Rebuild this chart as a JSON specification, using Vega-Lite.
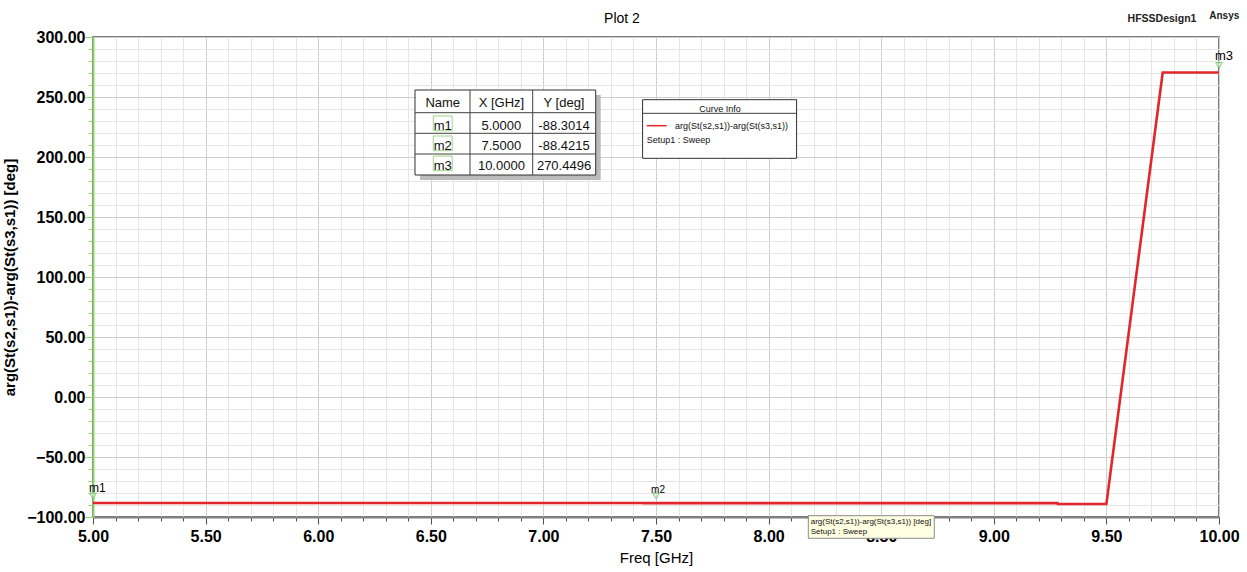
{
  "$schema": "https://vega.github.io/schema/vega-lite/v6.json",
  "width": 1126,
  "height": 480,
  "autosize": "none",
  "padding": {"left": 93, "top": 37, "right": 28, "bottom": 55},
  "background": "white",
  "config": {
    "font": "Liberation Sans",
    "view": {"stroke": "#505050", "strokeWidth": 1.5}
  },
  "datasets": {
    "curve": [
      {"f": 5.0, "v": -88.30},
      {"f": 7.44, "v": -88.30},
      {"f": 7.441, "v": -88.42},
      {"f": 9.283, "v": -88.45},
      {"f": 9.284, "v": -89.1},
      {"f": 9.5, "v": -89.2},
      {"f": 9.75, "v": 270.40},
      {"f": 10.0, "v": 270.45}
    ],
    "markers": [
      {"name": "m1", "f": 5.0, "v": -88.3014},
      {"name": "m2", "f": 7.5, "v": -88.4215},
      {"name": "m3", "f": 10.0, "v": 270.4496}
    ],
    "tableShadow": [{"f": 6.452, "f2": 7.2545, "v": 251.67, "v2": 180.83}],
    "tableBox": [{"f": 6.4298, "f2": 7.2323, "v": 255.83, "v2": 185.0}],
    "tableLines": [
      {"f": 6.4298, "f2": 7.2323, "v": 236.92, "v2": 236.92},
      {"f": 6.4298, "f2": 7.2323, "v": 219.75, "v2": 219.75},
      {"f": 6.4298, "f2": 7.2323, "v": 202.5, "v2": 202.5},
      {"f": 6.6741, "f2": 6.6741, "v": 255.83, "v2": 185.0},
      {"f": 6.9525, "f2": 6.9525, "v": 255.83, "v2": 185.0}
    ],
    "nameBoxes": [
      {"f": 6.511, "f2": 6.595, "v": 234.2, "v2": 221.9},
      {"f": 6.511, "f2": 6.595, "v": 217.5, "v2": 205.25},
      {"f": 6.511, "f2": 6.595, "v": 200.8, "v2": 188.6}
    ],
    "tableText": [
      {"t": "Name", "f": 6.553, "v": 244.75},
      {"t": "X [GHz]", "f": 6.8135, "v": 244.75},
      {"t": "Y [deg]", "f": 7.0915, "v": 244.75},
      {"t": "m1", "f": 6.553, "v": 226.1},
      {"t": "5.0000", "f": 6.8135, "v": 226.1},
      {"t": "-88.3014", "f": 7.0915, "v": 226.1},
      {"t": "m2", "f": 6.553, "v": 209.2},
      {"t": "7.5000", "f": 6.8135, "v": 209.2},
      {"t": "-88.4215", "f": 7.0915, "v": 209.2},
      {"t": "m3", "f": 6.553, "v": 192.5},
      {"t": "10.0000", "f": 6.8135, "v": 192.5},
      {"t": "270.4496", "f": 7.0915, "v": 192.5}
    ],
    "curveBox": [{"f": 7.4405, "f2": 8.1243, "v": 247.75, "v2": 198.9}],
    "curveBoxLine": [{"f": 7.4405, "f2": 8.1243, "v": 236.4, "v2": 236.4}],
    "curveSwatch": [{"f": 7.4587, "f2": 7.5475, "v": 226.1, "v2": 226.1}],
    "curveTitle": [{"t": "Curve Info", "f": 7.784, "v": 239.6}],
    "curveText": [
      {"t": "arg(St(s2,s1))-arg(St(s3,s1))", "f": 7.5843, "v": 226.1},
      {"t": "Setup1 : Sweep", "f": 7.4587, "v": 214.2}
    ],
    "tipBox": [{"f": 8.1764, "f2": 8.7358, "v": -98.9, "v2": -117.75}],
    "tipText": [
      {"t": "arg(St(s2,s1))-arg(St(s3,s1)) [deg]", "f": 8.187, "v": -103.9},
      {"t": "Setup1 : Sweep", "f": 8.187, "v": -112.5}
    ],
    "plotTitle": [{"t": "Plot 2", "f": 7.349, "v": 315.0}],
    "corner1": [{"t": "HFSSDesign1", "f": 9.747, "v": 315.0}],
    "corner2": [{"t": "Ansys", "f": 10.0235, "v": 317.75}]
  },
  "encoding": {
    "x": {
      "field": "f", "type": "quantitative",
      "scale": {"domain": [5, 10], "nice": false, "zero": false},
      "axis": {
        "values": [5,5.1,5.2,5.3,5.4,5.5,5.6,5.7,5.8,5.9,6,6.1,6.2,6.3,6.4,6.5,6.6,6.7,6.8,6.9,7,7.1,7.2,7.3,7.4,7.5,7.6,7.7,7.8,7.9,8,8.1,8.2,8.3,8.4,8.5,8.6,8.7,8.8,8.9,9,9.1,9.2,9.3,9.4,9.5,9.6,9.7,9.8,9.9,10],
        "labelExpr": "abs(datum.value*2 - round(datum.value*2)) < 0.001 ? format(datum.value, '.2f') : ''",
        "labelFont": "Liberation Sans", "labelFontSize": 16, "labelFontWeight": "bold", "labelColor": "#000",
        "labelOverlap": false, "labelFlush": false, "labelBound": false, "labelPadding": 4,
        "tickColor": "#505050",
        "tickSize": {"condition": {"test": "abs(datum.value*2 - round(datum.value*2)) < 0.001", "value": 7}, "value": 4},
        "grid": true,
        "gridColor": {"condition": {"test": "abs(datum.value*2 - round(datum.value*2)) < 0.001", "value": "#cfcfcf"}, "value": "#e6e6e6"},
        "domainColor": "#808080", "domainWidth": 2,
        "title": "Freq [GHz]", "titleFont": "Liberation Sans", "titleFontSize": 15, "titleFontWeight": "normal", "titleColor": "#000", "titlePadding": 6
      }
    },
    "y": {
      "field": "v", "type": "quantitative",
      "scale": {"domain": [-100, 300], "nice": false, "zero": false},
      "axis": {
        "values": [-100,-90,-80,-70,-60,-50,-40,-30,-20,-10,0,10,20,30,40,50,60,70,80,90,100,110,120,130,140,150,160,170,180,190,200,210,220,230,240,250,260,270,280,290,300],
        "labelExpr": "datum.value % 50 === 0 ? format(datum.value, '.2f') : ''",
        "labelFont": "Liberation Sans", "labelFontSize": 16, "labelFontWeight": "bold", "labelColor": "#000",
        "labelOverlap": false, "labelFlush": false, "labelBound": false, "labelPadding": 0,
        "tickColor": "#8fd46a",
        "tickSize": {"condition": {"test": "datum.value % 50 === 0", "value": 8}, "value": 5},
        "grid": true,
        "gridColor": {"condition": {"test": "datum.value % 50 === 0", "value": "#cfcfcf"}, "value": "#e6e6e6"},
        "domainColor": "#8fd46a", "domainWidth": 2,
        "title": "arg(St(s2,s1))-arg(St(s3,s1)) [deg]", "titleFont": "Liberation Sans", "titleFontSize": 15, "titleFontWeight": "bold", "titleColor": "#000", "titlePadding": 9
      }
    }
  },
  "layer": [
    {
      "data": {"name": "curve"},
      "mark": {"type": "line", "color": "#e3262b", "strokeWidth": 2.6, "clip": false}
    },
    {
      "data": {"name": "markers"},
      "mark": {"type": "point", "shape": "triangle-down", "size": 45, "filled": true, "fill": "#d8f0c8", "stroke": "#5cb85c", "strokeWidth": 1, "yOffset": -7, "clip": false}
    },
    {
      "data": {"name": "markers"},
      "transform": [{"filter": "datum.name === 'm1'"}],
      "mark": {"type": "text", "fontSize": 12, "align": "left", "baseline": "middle", "dx": -4, "dy": -15, "color": "#000"},
      "encoding": {"text": {"field": "name"}}
    },
    {
      "data": {"name": "markers"},
      "transform": [{"filter": "datum.name === 'm2'"}],
      "mark": {"type": "text", "fontSize": 10, "align": "center", "baseline": "middle", "dx": 2, "dy": -13, "color": "#000"},
      "encoding": {"text": {"field": "name"}}
    },
    {
      "data": {"name": "markers"},
      "transform": [{"filter": "datum.name === 'm3'"}],
      "mark": {"type": "text", "fontSize": 13, "align": "left", "baseline": "middle", "dx": -4, "dy": -16, "color": "#000"},
      "encoding": {"text": {"field": "name"}}
    },
    {
      "data": {"name": "tableShadow"},
      "mark": {"type": "rect", "fill": "#b4b4b4", "opacity": 0.9},
      "encoding": {"x2": {"field": "f2"}, "y2": {"field": "v2"}}
    },
    {
      "data": {"name": "tableBox"},
      "mark": {"type": "rect", "fill": "#ffffff", "stroke": "#303030", "strokeWidth": 1},
      "encoding": {"x2": {"field": "f2"}, "y2": {"field": "v2"}}
    },
    {
      "data": {"name": "tableLines"},
      "mark": {"type": "rule", "color": "#404040", "strokeWidth": 1},
      "encoding": {"x2": {"field": "f2"}, "y2": {"field": "v2"}}
    },
    {
      "data": {"name": "nameBoxes"},
      "mark": {"type": "rect", "fill": null, "fillOpacity": 0, "stroke": "#9fd288", "strokeWidth": 1},
      "encoding": {"x2": {"field": "f2"}, "y2": {"field": "v2"}}
    },
    {
      "data": {"name": "tableText"},
      "mark": {"type": "text", "fontSize": 13, "align": "center", "baseline": "middle", "color": "#111"},
      "encoding": {"text": {"field": "t"}}
    },
    {
      "data": {"name": "curveBox"},
      "mark": {"type": "rect", "fill": "#ffffff", "stroke": "#303030", "strokeWidth": 1},
      "encoding": {"x2": {"field": "f2"}, "y2": {"field": "v2"}}
    },
    {
      "data": {"name": "curveBoxLine"},
      "mark": {"type": "rule", "color": "#404040", "strokeWidth": 1},
      "encoding": {"x2": {"field": "f2"}, "y2": {"field": "v2"}}
    },
    {
      "data": {"name": "curveSwatch"},
      "mark": {"type": "rule", "color": "#e3262b", "strokeWidth": 1.5},
      "encoding": {"x2": {"field": "f2"}, "y2": {"field": "v2"}}
    },
    {
      "data": {"name": "curveTitle"},
      "mark": {"type": "text", "fontSize": 9, "align": "center", "baseline": "middle", "color": "#111"},
      "encoding": {"text": {"field": "t"}}
    },
    {
      "data": {"name": "curveText"},
      "mark": {"type": "text", "fontSize": 9, "align": "left", "baseline": "middle", "color": "#111"},
      "encoding": {"text": {"field": "t"}}
    },
    {
      "data": {"name": "tipBox"},
      "mark": {"type": "rect", "fill": "#ffffe1", "stroke": "#8c8c8c", "strokeWidth": 1, "clip": false},
      "encoding": {"x2": {"field": "f2"}, "y2": {"field": "v2"}}
    },
    {
      "data": {"name": "tipText"},
      "mark": {"type": "text", "fontSize": 8, "align": "left", "baseline": "middle", "color": "#111"},
      "encoding": {"text": {"field": "t"}}
    },
    {
      "data": {"name": "plotTitle"},
      "mark": {"type": "text", "fontSize": 14, "align": "center", "baseline": "middle", "color": "#000"},
      "encoding": {"text": {"field": "t"}}
    },
    {
      "data": {"name": "corner1"},
      "mark": {"type": "text", "fontSize": 10.5, "fontWeight": "bold", "align": "center", "baseline": "middle", "color": "#222"},
      "encoding": {"text": {"field": "t"}}
    },
    {
      "data": {"name": "corner2"},
      "mark": {"type": "text", "fontSize": 10, "fontWeight": "bold", "align": "center", "baseline": "middle", "color": "#222"},
      "encoding": {"text": {"field": "t"}}
    }
  ]
}
